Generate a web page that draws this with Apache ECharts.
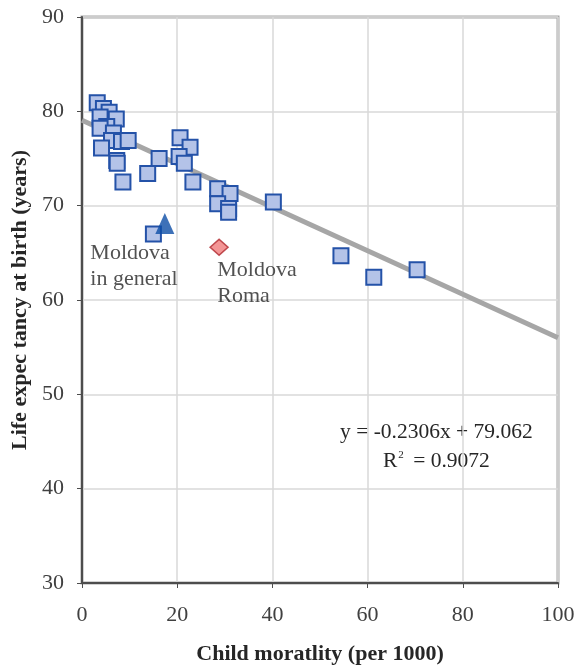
<!DOCTYPE html>
<html>
<head>
<meta charset="utf-8">
<script src="https://cdn.jsdelivr.net/npm/echarts@6/dist/echarts.min.js"></script>
<style>
  html, body { margin: 0; padding: 0; background: #fff; }
  #chart { width: 574px; height: 666px; }
</style>
</head>
<body>
<div id="chart"></div>
<script>
// countries: [child mortality per 1000, life expectancy]
const countryPoints = [
  [3.2, 80.9], [4.5, 80.3], [5.7, 79.9], [7.2, 79.2], [3.8, 79.4],
  [5.2, 78.4], [3.8, 78.2], [6.6, 77.7], [6.2, 76.9], [8.3, 76.8],
  [9.7, 76.9], [4.1, 76.1], [7.3, 74.8], [7.4, 74.5], [8.6, 72.5],
  [16.2, 75.0], [13.8, 73.4], [20.6, 77.2], [22.7, 76.2], [20.4, 75.2],
  [21.5, 74.5], [23.3, 72.5], [28.5, 71.8], [31.1, 71.3], [28.5, 70.2],
  [30.8, 69.7], [30.8, 69.3], [15.0, 67.0], [40.2, 70.4], [54.4, 64.7],
  [61.3, 62.4], [70.4, 63.2]
];
const moldovaGeneral = [17.4, 68.1];
const moldovaRoma = [28.8, 65.6];
const slope = -0.2306;
const intercept = 79.062;
const rSquared = 0.9072;
const trendX = [0, 100];
const xTicks = [0, 20, 40, 60, 80, 100];
const yTicks = [30, 40, 50, 60, 70, 80, 90];

const serif = '"Liberation Serif", "DejaVu Serif", serif';
const chart = echarts.init(document.getElementById('chart'));

const option = {
  backgroundColor: '#fff',
  animation: false,
  grid: {
    left: 82, right: 16, top: 17, bottom: 83,
    containLabel: false, outerBoundsMode: 'none',
    show: true, borderColor: '#a6a6a6', borderWidth: 3
  },
  xAxis: {
    type: 'value', min: xTicks[0], max: xTicks[xTicks.length - 1], interval: 20,
    name: 'Child moratlity (per 1000)',
    nameLocation: 'middle', nameGap: 60,
    nameTextStyle: { fontFamily: serif, fontWeight: 'bold', fontSize: 22, color: '#262626' },
    axisLine: { onZero: false, lineStyle: { color: '#4d4d4d', width: 2 } },
    axisTick: { show: true, inside: false, length: 5, lineStyle: { color: '#4d4d4d' } },
    axisLabel: { fontFamily: serif, fontSize: 22, color: '#404040', margin: 21 },
    splitLine: { show: true, lineStyle: { color: '#d9d9d9', width: 1.5 } }
  },
  yAxis: {
    type: 'value', min: yTicks[0], max: yTicks[yTicks.length - 1], interval: 10,
    name: 'Life expec tancy at birth (years)',
    nameLocation: 'middle', nameGap: 50,
    nameTextStyle: { fontFamily: serif, fontWeight: 'bold', fontSize: 22, color: '#262626' },
    axisLine: { onZero: false, lineStyle: { color: '#4d4d4d', width: 2 } },
    axisTick: { show: true, inside: false, length: 5, lineStyle: { color: '#4d4d4d' } },
    axisLabel: { fontFamily: serif, fontSize: 22, color: '#404040', margin: 18 },
    splitLine: { show: true, lineStyle: { color: '#d9d9d9', width: 1.5 } }
  },
  series: [
    {
      name: 'trend',
      type: 'line',
      data: trendX.map(x => [x, slope * x + intercept]),
      symbol: 'none',
      lineStyle: { color: '#a6a6a6', width: 5 },
      z: 1
    },
    {
      name: 'countries',
      type: 'scatter',
      data: countryPoints,
      symbol: 'rect',
      symbolSize: 15,
      itemStyle: { color: '#b4c3e8', borderColor: '#2452a8', borderWidth: 2, opacity: 1 },
      z: 3
    },
    {
      name: 'Moldova in general',
      type: 'scatter',
      data: [moldovaGeneral],
      symbol: 'triangle',
      symbolSize: [19, 21],
      itemStyle: { color: '#0d4ea6' },
      label: {
        show: true,
        formatter: 'Moldova\nin general',
        position: [-65, 27],
        align: 'left',
        verticalAlign: 'top',
        fontFamily: serif, fontSize: 22, lineHeight: 26, color: '#262626'
      },
      z: 4
    },
    {
      name: 'Moldova Roma',
      type: 'scatter',
      data: [moldovaRoma],
      symbol: 'diamond',
      symbolSize: [18, 16],
      itemStyle: { color: '#f07a7a', borderColor: '#b0282e', borderWidth: 1.5 },
      label: {
        show: true,
        formatter: 'Moldova\nRoma',
        position: [8, 19],
        align: 'left',
        verticalAlign: 'top',
        fontFamily: serif, fontSize: 22, lineHeight: 26, color: '#262626'
      },
      z: 4
    }
  ],
  graphic: [
    {
      type: 'text', left: 340, top: 421,
      style: {
        text: 'y = ' + slope + 'x + ' + intercept,
        fontFamily: serif, fontSize: 21.5, fill: '#262626'
      }
    },
    {
      type: 'text', left: 383, top: 450,
      style: {
        text: '{r|R}{s|2}{r| = ' + rSquared + '}',
        fontFamily: serif, fill: '#262626',
        rich: {
          r: { fontFamily: serif, fontSize: 21.5, color: '#262626', verticalAlign: 'bottom' },
          s: { fontFamily: serif, fontSize: 11, color: '#262626', verticalAlign: 'top', padding: [0, 4, 0, 1] }
        }
      }
    }
  ]
};

chart.setOption(option);
</script>
</body>
</html>
